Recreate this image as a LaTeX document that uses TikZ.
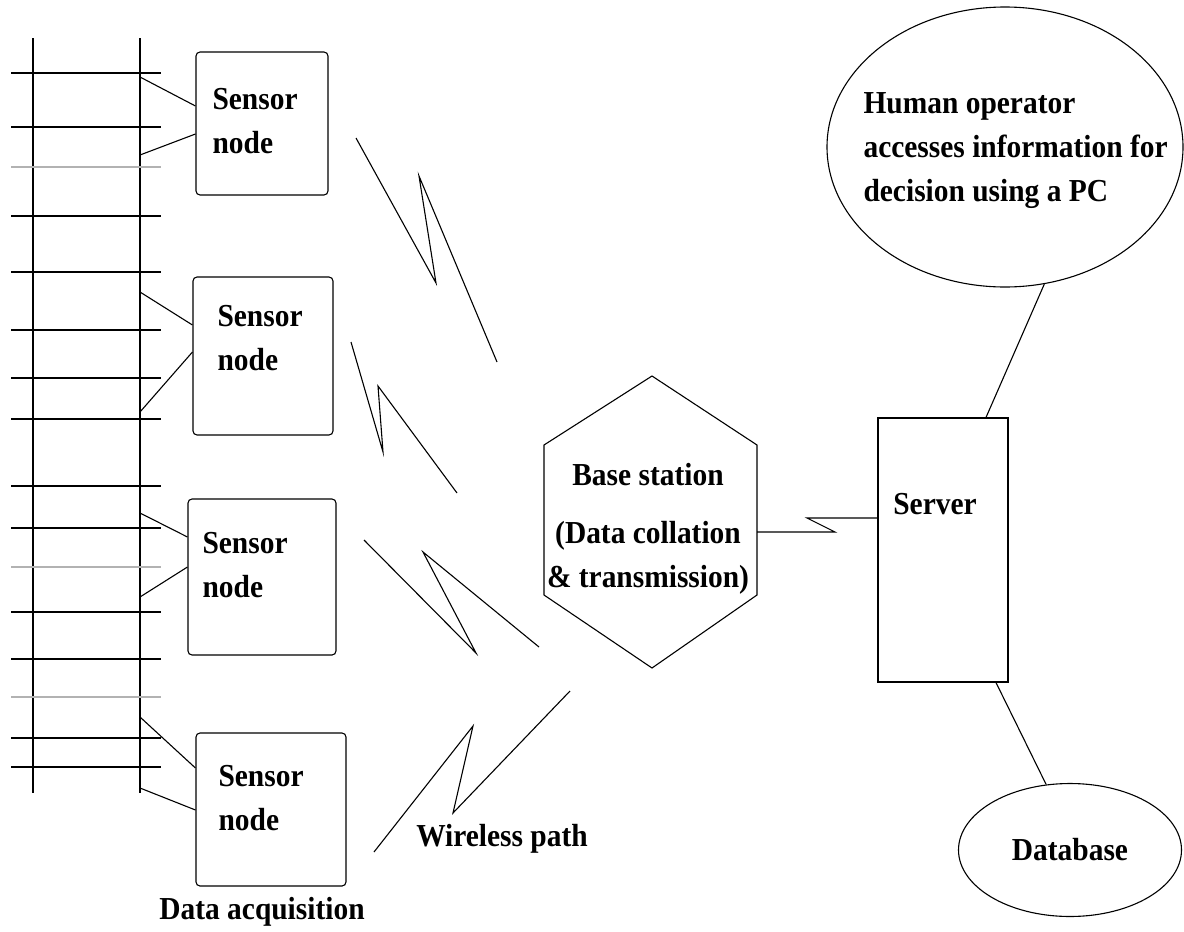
\documentclass[tikz,border=0pt]{standalone}
\usepackage{fontspec}
\setmainfont{Liberation Serif}[FakeStretch=0.92]
\usepackage{tikz}
\usetikzlibrary{shapes.geometric}

\tikzset{
  lbl/.style={font=\fontsize{32}{44}\selectfont\bfseries, inner sep=0pt, align=left},
  sensorbox/.style={draw, rounded corners=4pt, line width=1.1pt},
  oval/.style={draw, ellipse, inner sep=0pt, line width=1.1pt}
}

\begin{document}
\begin{tikzpicture}[x=1pt,y=-1pt,line width=1.1pt]
    \useasboundingbox (0,0) rectangle (1184,932);

    \draw (33,38) -- (33,793);
    \draw (140,38) -- (140,793);
    \foreach \y in {73,127,216,272,330,378,419,486,528,612,659,738,767}
        \draw (11,\y) -- (161,\y);
    \foreach \y in {167,567,697}
        \draw [gray!60, line width=2pt] (11,\y) -- (161,\y);

    \node [sensorbox, minimum width=132, minimum height=143] (s1) at (262,123.5) {};
    \node [sensorbox, minimum width=140, minimum height=158] (s2) at (263,356) {};
    \node [sensorbox, minimum width=148, minimum height=156] (s3) at (262,577) {};
    \node [sensorbox, minimum width=150, minimum height=153] (s4) at (271,809.5) {};

    \node [lbl, anchor=west] (s1t) at (212,121.5) {Sensor\\node};
    \node [lbl, anchor=west] (s2t) at (217,338.5) {Sensor\\node};
    \node [lbl, anchor=west] (s3t) at (202,565) {Sensor\\node};
    \node [lbl, anchor=west] (s4t) at (218,798.5) {Sensor\\node};

    \foreach \s/\ya/\yb/\za/\zb in {s1/77/106/155/134, s2/292/325/412/352,
                                    s3/513/537/597/567, s4/717/768/788/810} {
        \coordinate (\s a) at (140,\ya);
        \coordinate (\s b) at (140,\za);
        \draw (\s a) -- (\s.west |- 0,\yb);
        \draw (\s b) -- (\s.west |- 0,\zb);
    }

    \node [lbl] (acq) at (262,912) {Data acquisition};

    \foreach \xa/\ya/\xb/\yb/\xc/\yc/\xd/\yd in {356/138/436/283/419/176/497/362,
                                                351/342/383/452/378/386/457/493,
                                                364/540/476/653/423/552/539/647,
                                                374/852/473/726/453/813/570/691}
        \draw (\xa,\ya) -- (\xb,\yb) -- (\xc,\yc) -- (\xd,\yd);

    \node [lbl] (wl) at (502,839) {Wireless path};

    \draw (652,376) -- (757,445) -- (757,595) -- (652,668) -- (544,595) -- (544,445) -- cycle;
    \coordinate (hexE) at (757,532);
    \node [lbl, align=center] (bs) at (648,528.5) {Base station\\[14pt](Data collation\\\& transmission)};

    \node [draw, minimum width=130, minimum height=264] (srv) at (943,550) {};
    \node [lbl] (srvt) at (935,504) {Server};
    \draw (hexE) -- (835,532) -- (807,518) -- (srv.west |- 0,518);

    \node [oval, minimum width=356, minimum height=280] (hum) at (1005,147) {};
    \node [lbl, anchor=west] (humt) at (863,151) {Human operator\\accesses information for\\decision using a PC};
    \draw (hum.-74) -- (srv.north -| 986,0);

    \node [oval, minimum width=223, minimum height=133, lbl] (db) at (1070,850) {Database};
    \draw (srv.south -| 996,0) -- (db.110);
\end{tikzpicture}
\end{document}
